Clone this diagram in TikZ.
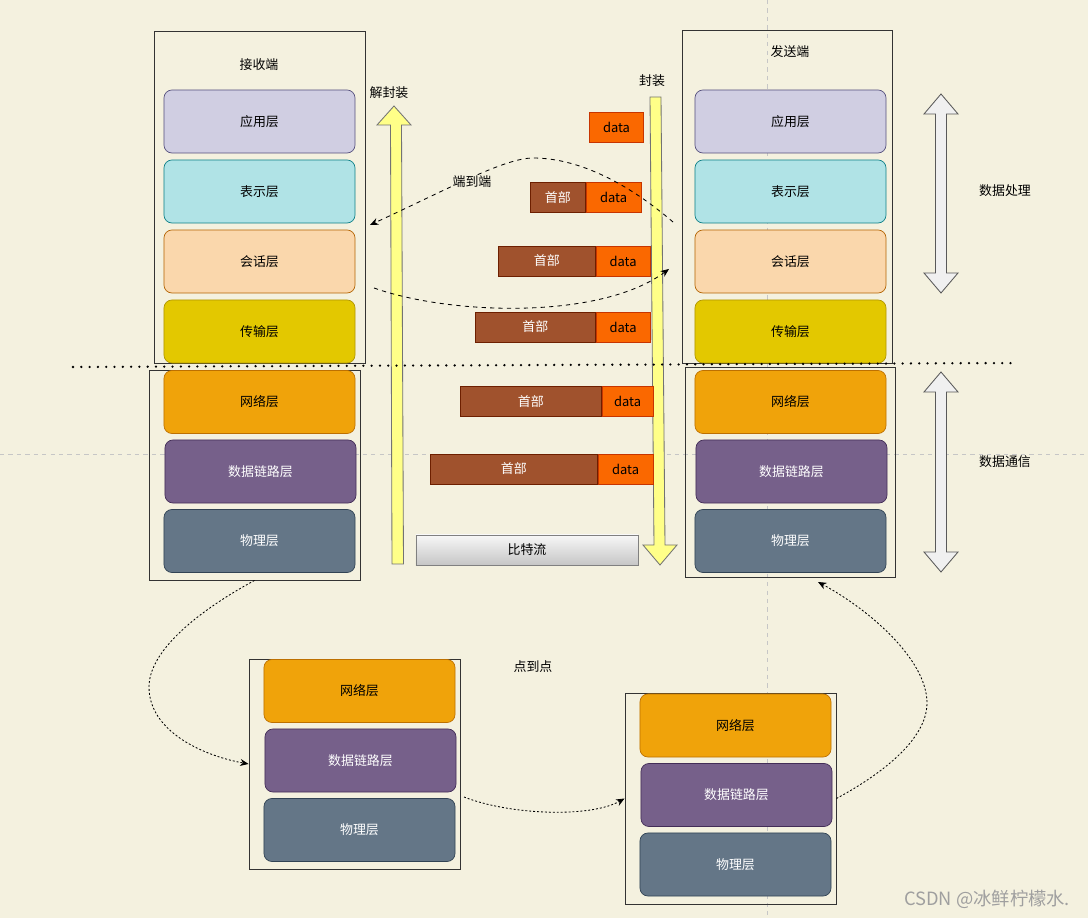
\documentclass[tikz,border=0pt]{standalone}
\usepackage{fontspec}
\setmainfont{Noto Sans CJK SC}
\usetikzlibrary{arrows.meta}

\definecolor{paper}{HTML}{F4F1DF}
\definecolor{appFill}{HTML}{D0CEE2}
\definecolor{appLine}{HTML}{56517E}
\definecolor{preFill}{HTML}{B0E3E6}
\definecolor{preLine}{HTML}{0E8088}
\definecolor{sesFill}{HTML}{FAD7AC}
\definecolor{sesLine}{HTML}{B46504}
\definecolor{traFill}{HTML}{E3C800}
\definecolor{traLine}{HTML}{B09500}
\definecolor{netFill}{HTML}{F0A30A}
\definecolor{netLine}{HTML}{BD7000}
\definecolor{dlFill}{HTML}{76608A}
\definecolor{dlLine}{HTML}{432D57}
\definecolor{phyFill}{HTML}{647687}
\definecolor{phyLine}{HTML}{314354}
\definecolor{hdrFill}{HTML}{A0522D}
\definecolor{hdrLine}{HTML}{6D1F00}
\definecolor{datFill}{HTML}{FA6800}
\definecolor{datLine}{HTML}{C73500}
\definecolor{flexFill}{HTML}{FFFF88}

\tikzset{
	layer/.style={rounded corners=0.2cm, minimum width=4.775cm, minimum height=1.575cm, line width=0.5pt},
	appbox/.style={layer, fill=appFill, draw=appLine},
	prebox/.style={layer, fill=preFill, draw=preLine},
	sesbox/.style={layer, fill=sesFill, draw=sesLine},
	trabox/.style={layer, fill=traFill, draw=traLine},
	netbox/.style={layer, fill=netFill, draw=netLine},
	dlbox/.style={layer, fill=dlFill, draw=dlLine, text=white},
	phybox/.style={layer, fill=phyFill, draw=phyLine, text=white},
	stackbox/.style={draw=black!80, line width=0.6pt, inner sep=0pt, minimum width=5.275cm},
	hdr/.style={fill=hdrFill, draw=hdrLine, text=white, minimum height=0.75cm, line width=0.5pt, anchor=west},
	dat/.style={fill=datFill, draw=datLine, minimum width=1.35cm, minimum height=0.75cm, line width=0.5pt},
	flexarrow/.style={fill=flexFill, draw=black!55, line width=0.6pt, line join=miter},
	dblarrow/.style={fill=gray!12, draw=black!65, line width=0.6pt},
	e2e/.style={dash pattern=on 3pt off 3pt, line width=0.6pt, -{Stealth[length=6pt, width=5pt]}},
	p2p/.style={dash pattern=on 1.4pt off 1.4pt, line width=0.6pt, -{Stealth[length=6pt, width=5pt]}},
	tag/.style={fill=paper, inner sep=1pt},
}

\begin{document}
\begin{tikzpicture}[x=0.025cm, y=-0.025cm, font=\fontsize{9.2}{11}\selectfont]
	\fill[paper] (0,0) rectangle (1088,918);
	\useasboundingbox (0,0) rectangle (1088,918);

	% guides
	\begin{scope}[gray!45, dashed, line width=0.6pt]
		\draw (767,0) -- (767,918);
		\draw (0,454) -- (1088,454);
	\end{scope}

	% frames
	\node[stackbox, minimum height=8.3cm] (rtop) at (259.5,197) {};
	\node[stackbox, minimum height=5.25cm] (rbot) at (254.5,475) {};
	\node[stackbox, minimum width=5.25cm, minimum height=8.325cm] (stop) at (787,196.5) {};
	\node[stackbox, minimum width=5.25cm, minimum height=5.25cm] (sbot) at (790,472) {};
	\node[stackbox, minimum height=5.25cm] (pa) at (354.5,764) {};
	\node[stackbox, minimum height=5.275cm] (pb) at (730.5,798.5) {};

	\node (rtitle) at (259,65) {接收端};
	\node (stitle) at (790,52) {发送端};

	% upper layers
	\foreach \t/\s [count=\i] in {应用层/appbox, 表示层/prebox, 会话层/sesbox, 传输层/trabox}
	{
		\node[\s] (r\i) at (259.5,{121.5+70*(\i-1)}) {\t};
		\node[\s] (s\i) at (790.5,{121.5+70*(\i-1)}) {\t};
	}

	% lower layers
	\foreach \nm/\x/\y in {rb/259.5/402, sb/790.5/402, pa/359.5/691, pb/735.5/725.5}
	{
		\node[netbox] (\nm-net) at (\x,\y) {网络层};
		\node[dlbox] (\nm-dl) at ({\x+1},{\y+69.5}) {数据链路层};
		\node[phybox] (\nm-phy) at (\x,{\y+139}) {物理层};
	}

	% (de)encapsulation
	\draw[flexarrow] (392,564) -- (390.5,125) -- (377,125) -- (394,106) -- (411,125) -- (401.5,125) -- (403.5,564) -- cycle;
	\draw[flexarrow] (650,97) -- (661,97) -- (665,545) -- (677,545) -- (660,565) -- (643,545) -- (654,545) -- cycle;
	\node (unpack) at (389,93) {解封装};
	\node (pack) at (652,81) {封装};

	% packets
	\node[dat] (d0) at (616.5,127) {data};
	\foreach \i/\x/\y/\w/\v in {1/530/197.5/55/55, 2/498/261/97/54, 3/475/327/120/54, 4/460/401.5/141/51, 5/430/469/167/55}
	{
		\node[hdr, minimum width=\w*0.025cm] (h\i) at (\x,\y) {首部};
		\node[dat, anchor=west, minimum width=\v*0.025cm] (d\i) at (h\i.east) {data};
	}
	\node[draw=gray, line width=0.6pt, top color=gray!6, bottom color=gray!45, minimum width=5.55cm, minimum height=0.75cm] (bits) at (527,550) {比特流};

	% processing / communication
	\foreach \a/\b in {94/293, 372/572}
	{
		\draw[dblarrow] (941,\a) -- (958,{\a+20}) -- (946.5,{\a+20}) -- (946.5,{\b-20}) -- (958,{\b-20}) -- (941,\b) -- (924,{\b-20}) -- (935.5,{\b-20}) -- (935.5,{\a+20}) -- (924,{\a+20}) -- cycle;
	}
	\node (proc) at (1005,191) {数据处理};
	\node (comm) at (1005,462) {数据通信};

	% divider
	\draw[line width=1.8pt, line cap=round, dash pattern=on 0pt off 5.9pt] (73,367) -- (1018,363);

	% end to end
	\coordinate (e2eA) at (673,222);
	\coordinate (e2eB) at (370,225);
	\coordinate (e2eC) at (374,288);
	\coordinate (e2eD) at (669,269);
	\draw[e2e] (e2eA) .. controls (630,185) and (580,158) .. (533,158) .. controls (505,158) and (450,188) .. (e2eB);
	\draw[e2e] (e2eC) .. controls (450,315) and (600,320) .. (e2eD);
	\node[tag] (e2eLabel) at (472,182) {端到端};

	% point to point
	\coordinate (p2pA) at (464,797);
	\coordinate (p2pB) at (818,582);
	\draw[p2p] (rbot.south) .. controls (200,610) and (149,650) .. (149,687) .. controls (149,730) and (200,755) .. (pa.west);
	\draw[p2p] (p2pA) .. controls (510,815) and (590,818) .. (pb.west);
	\draw[p2p] (pb.east) .. controls (880,775) and (927,740) .. (927,703) .. controls (927,660) and (870,610) .. (p2pB);
	\node (p2pLabel) at (533,667) {点到点};

	\node[text=gray!75, font=\fontsize{13}{15}\selectfont, anchor=east] (mark) at (1075,899) {CSDN @冰鲜柠檬水.};
\end{tikzpicture}
\end{document}
